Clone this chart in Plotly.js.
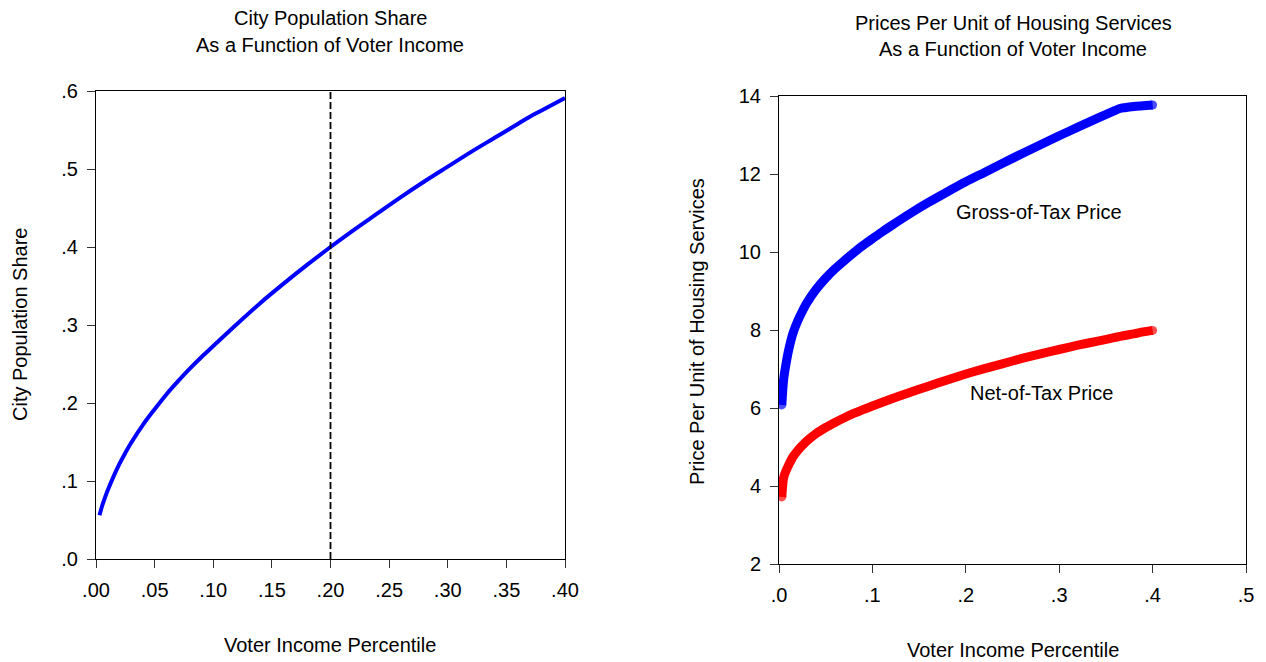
<!DOCTYPE html>
<html>
<head>
<meta charset="utf-8">
<script src="https://cdn.plot.ly/plotly-3.0.1.min.js"></script>
<style>
  html, body { margin: 0; padding: 0; background: #fff; }
  #chart { width: 1266px; height: 662px; }
</style>
</head>
<body>
<div id="chart"></div>
<script>
// City population share by voter income percentile
const popX = [0.003, 0.005, 0.0075, 0.01, 0.015, 0.02, 0.025, 0.03, 0.04, 0.05, 0.06, 0.07, 0.08, 0.09, 0.10,
              0.12, 0.14, 0.16, 0.18, 0.20, 0.22, 0.24, 0.26, 0.28, 0.30, 0.32, 0.34, 0.36, 0.37, 0.38, 0.40];
const popShare = [0.056, 0.067, 0.078, 0.088, 0.106, 0.122, 0.136, 0.149, 0.172, 0.192, 0.211, 0.228, 0.244, 0.259, 0.273,
                  0.301, 0.328, 0.353, 0.377, 0.400, 0.422, 0.443, 0.464, 0.484, 0.503, 0.522, 0.540, 0.558, 0.567, 0.575, 0.591];
const cutoffPercentile = 0.20;

// Prices per unit of housing services by voter income percentile
const priceX = [0.003, 0.005, 0.0075, 0.01, 0.015, 0.02, 0.025, 0.03, 0.04, 0.05, 0.06, 0.07, 0.08, 0.09, 0.10, 0.11,
                0.12, 0.14, 0.16, 0.18, 0.20, 0.22, 0.24, 0.26, 0.28, 0.30, 0.32, 0.34, 0.36, 0.365, 0.37, 0.38, 0.39, 0.40];
const grossPrice = [6.08, 6.74, 7.13, 7.45, 7.92, 8.23, 8.48, 8.70, 9.05, 9.33, 9.57, 9.78, 9.98, 10.17, 10.34, 10.51,
                    10.67, 10.98, 11.27, 11.54, 11.80, 12.04, 12.28, 12.52, 12.75, 12.98, 13.20, 13.42, 13.63, 13.68, 13.70, 13.73, 13.75, 13.77];
const netPrice = [3.72, 4.22, 4.39, 4.52, 4.75, 4.91, 5.04, 5.16, 5.35, 5.50, 5.63, 5.75, 5.86, 5.96, 6.05, 6.14,
                  6.23, 6.40, 6.56, 6.72, 6.87, 7.01, 7.14, 7.27, 7.39, 7.50, 7.61, 7.71, 7.81, 7.835, 7.86, 7.90, 7.95, 7.99];

// Tick labels
const popTickVals = [0, 0.05, 0.10, 0.15, 0.20, 0.25, 0.30, 0.35, 0.40];
const popTickText = ['.00', '.05', '.10', '.15', '.20', '.25', '.30', '.35', '.40'];
const shareTickVals = [0, 0.1, 0.2, 0.3, 0.4, 0.5, 0.6];
const shareTickText = ['.0', '.1', '.2', '.3', '.4', '.5', '.6'];
const priceXTickVals = [0, 0.1, 0.2, 0.3, 0.4, 0.5];
const priceXTickText = ['.0', '.1', '.2', '.3', '.4', '.5'];
const priceYTickVals = [2, 4, 6, 8, 10, 12, 14];

// Label positions for the two price curves
const grossLabel = { x: 0.278, y: 11.03, text: 'Gross-of-Tax Price' };
const netLabel = { x: 0.281, y: 6.39, text: 'Net-of-Tax Price' };

const W = 1266, H = 662;
const fx = v => v / W;
const fy = v => 1 - v / H;
const FONT = 'Liberation Sans, Arial, sans-serif';
const TXT = 20;
const BAND = 9;

// round caps: a marker only on the first and last point of each thick curve
const capSizes = n => Array.from({ length: n }, (_, i) => (i === 0 || i === n - 1) ? BAND : 0);

const traces = [
  {
    x: popX, y: popShare, type: 'scatter', mode: 'lines',
    line: { color: '#0000ff', width: 4, shape: 'spline', smoothing: 1 },
    xaxis: 'x', yaxis: 'y', hoverinfo: 'skip'
  },
  {
    x: priceX, y: grossPrice, type: 'scatter', mode: 'lines+markers',
    line: { color: '#0000ff', width: BAND, shape: 'spline', smoothing: 0.8 },
    marker: { color: '#0000ff', size: capSizes(priceX.length), line: { width: 0 } },
    xaxis: 'x2', yaxis: 'y2', hoverinfo: 'skip'
  },
  {
    x: priceX, y: netPrice, type: 'scatter', mode: 'lines+markers',
    line: { color: '#ff0000', width: BAND, shape: 'spline', smoothing: 0.8 },
    marker: { color: '#ff0000', size: capSizes(priceX.length), line: { width: 0 } },
    xaxis: 'x2', yaxis: 'y2', hoverinfo: 'skip'
  }
];

const axisBase = {
  showline: true, mirror: true, linecolor: '#000', linewidth: 1,
  showgrid: false, zeroline: false,
  ticks: 'outside', ticklen: 8, tickwidth: 1, tickcolor: '#333',
  tickmode: 'array', ticklabelstandoff: 5,
  tickfont: { family: FONT, size: TXT, color: '#000' },
  fixedrange: true
};

const textAnn = (x, y, text, extra) => Object.assign({
  x: x, y: y, xref: 'paper', yref: 'paper', text: text, showarrow: false,
  xanchor: 'center', yanchor: 'middle',
  font: { family: FONT, size: TXT, color: '#000' }
}, extra || {});

const layout = {
  width: W, height: H,
  margin: { l: 0, r: 0, t: 0, b: 0 },
  paper_bgcolor: '#fff', plot_bgcolor: '#fff',
  showlegend: false,
  xaxis: Object.assign({}, axisBase, {
    domain: [fx(96), fx(565)], anchor: 'y', range: [0, 0.40],
    tickvals: popTickVals, ticktext: popTickText
  }),
  yaxis: Object.assign({}, axisBase, {
    domain: [fy(559), fy(91)], anchor: 'x', range: [0, 0.6],
    tickvals: shareTickVals, ticktext: shareTickText
  }),
  xaxis2: Object.assign({}, axisBase, {
    domain: [fx(779), fx(1246)], anchor: 'y2', range: [0, 0.5],
    tickvals: priceXTickVals, ticktext: priceXTickText
  }),
  yaxis2: Object.assign({}, axisBase, {
    domain: [fy(564), fy(96)], anchor: 'x2', range: [2, 14],
    tickvals: priceYTickVals, ticktext: priceYTickVals.map(String)
  }),
  shapes: [
    {
      type: 'line', xref: 'x', yref: 'y',
      x0: cutoffPercentile, x1: cutoffPercentile, y0: 0, y1: 0.6,
      line: { color: '#000', width: 1.8, dash: '7px,3px' }
    }
  ],
  annotations: [
    textAnn(fx(330), fy(18), 'City Population Share'),
    textAnn(fx(330), fy(45), 'As a Function of Voter Income'),
    textAnn(fx(330), fy(645), 'Voter Income Percentile'),
    textAnn(fx(20), fy(325), 'City Population Share', { textangle: -90 }),
    textAnn(fx(1013), fy(23), 'Prices Per Unit of Housing Services'),
    textAnn(fx(1013), fy(49), 'As a Function of Voter Income'),
    textAnn(fx(1013), fy(650), 'Voter Income Percentile'),
    textAnn(fx(697), fy(332), 'Price Per Unit of Housing Services', { textangle: -90 }),
    {
      x: grossLabel.x, y: grossLabel.y, xref: 'x2', yref: 'y2', text: grossLabel.text,
      showarrow: false, xanchor: 'center', yanchor: 'middle',
      font: { family: FONT, size: TXT, color: '#000' }
    },
    {
      x: netLabel.x, y: netLabel.y, xref: 'x2', yref: 'y2', text: netLabel.text,
      showarrow: false, xanchor: 'center', yanchor: 'middle',
      font: { family: FONT, size: TXT, color: '#000' }
    }
  ]
};

Plotly.newPlot('chart', traces, layout, { displayModeBar: false, staticPlot: true });
</script>
</body>
</html>
